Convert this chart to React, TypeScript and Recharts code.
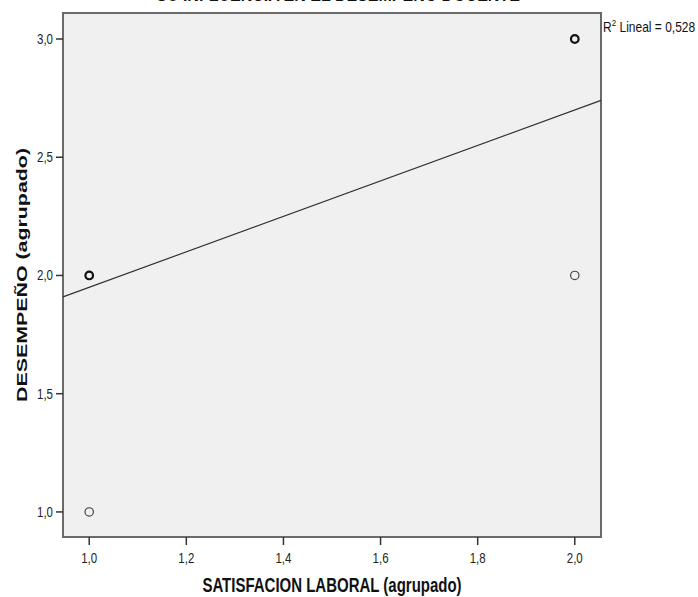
import React from "react";
import {
  ScatterChart,
  Scatter,
  XAxis,
  YAxis,
  ReferenceArea,
  ReferenceLine,
  Label,
} from "recharts";

// observed groups (x = satisfacción, y = desempeño); n = overlapping cases
const satisfaccion = [1, 1, 2, 2];
const desempeno = [1, 2, 2, 3];
const casos = [1, 2, 1, 2];

const xTicks = [1.0, 1.2, 1.4, 1.6, 1.8, 2.0];
const yTicks = [1.0, 1.5, 2.0, 2.5, 3.0];

// linear fit
const intercepto = 1.2;
const pendiente = 0.75;
const r2 = "0,528";

const xDomain: [number, number] = [0.946, 2.054];
const yDomain: [number, number] = [0.894, 3.11];

const points = satisfaccion.map((x, i) => ({ x, y: desempeno[i], n: casos[i] }));

const fmt = (v: number) => v.toFixed(1).replace(".", ",");
const font = "'Liberation Sans', Arial, sans-serif";

// the reference is stretched vertically, so text is drawn taller than wide
const STRETCH = 1.3;

const Ring = (props: any) => {
  const { cx, cy, payload } = props;
  const bold = payload.n > 1;
  return (
    <circle
      cx={cx}
      cy={cy}
      r={bold ? 3.8 : 4.2}
      fill="none"
      stroke={bold ? "#111" : "#444"}
      strokeWidth={bold ? 2.2 : 1.2}
    />
  );
};

const XTick = (props: any) => {
  const { x, y, payload } = props;
  return (
    <g transform={`translate(${x},${y + 16}) scale(1,${STRETCH})`}>
      <text textAnchor="middle" fill="#222" fontSize={11.5} fontFamily={font}>
        {fmt(payload.value)}
      </text>
    </g>
  );
};

const YTick = (props: any) => {
  const { x, y, payload } = props;
  return (
    <g transform={`translate(${x - 1},${y + 5}) scale(1,${STRETCH})`}>
      <text textAnchor="end" fill="#222" fontSize={11.5} fontFamily={font}>
        {fmt(payload.value)}
      </text>
    </g>
  );
};

const XTitle = (props: any) => {
  const { viewBox } = props;
  const cx = viewBox.x + viewBox.width / 2;
  return (
    <g transform={`translate(${cx},592) scale(1,1.36)`}>
      <text textAnchor="middle" fill="#111" fontSize={15} fontWeight="bold" fontFamily={font}>
        SATISFACION LABORAL (agrupado)
      </text>
    </g>
  );
};

const YTitle = (props: any) => {
  const { viewBox } = props;
  const cy = viewBox.y + viewBox.height / 2;
  return (
    <g transform={`translate(27,${cy}) scale(1,1.38) rotate(-90)`}>
      <text textAnchor="middle" fill="#111" fontSize={15.5} fontWeight="bold" fontFamily={font}>
        DESEMPEÑO (agrupado)
      </text>
    </g>
  );
};

export default function App() {
  return (
    <div
      style={{
        position: "absolute",
        top: 0,
        left: 0,
        width: 698,
        height: 597,
        background: "#fff",
        overflow: "hidden",
        fontFamily: font,
      }}
    >
      <div
        style={{
          position: "absolute",
          top: -12,
          left: 0,
          width: 676,
          textAlign: "center",
          fontWeight: "bold",
          fontSize: 16,
          lineHeight: "18px",
          color: "#111",
          transform: "scaleY(1.3)",
          transformOrigin: "50% 100%",
        }}
      >
        SU INFLUENCIA EN EL DESEMPEÑO DOCENTE
      </div>
      <div
        style={{
          position: "absolute",
          top: 17,
          left: 603,
          fontSize: 12,
          lineHeight: "14px",
          color: "#111",
          whiteSpace: "nowrap",
          transform: "scaleY(1.2)",
        }}
      >
        R<sup style={{ fontSize: 8 }}>2</sup> Lineal = {r2}
      </div>
      <ScatterChart
        width={698}
        height={597}
        margin={{ top: 13, right: 97, bottom: 30, left: 3 }}
      >
        <XAxis
          type="number"
          dataKey="x"
          domain={xDomain}
          ticks={xTicks}
          allowDataOverflow
          height={30}
          axisLine={false}
          tickSize={8}
          tickLine={{ stroke: "#333", strokeWidth: 1.5 }}
          tick={XTick}
        >
          <Label content={XTitle} />
        </XAxis>
        <YAxis
          type="number"
          dataKey="y"
          domain={yDomain}
          ticks={yTicks}
          allowDataOverflow
          width={60}
          axisLine={false}
          tickSize={7}
          tickLine={{ stroke: "#333", strokeWidth: 1.5 }}
          tick={YTick}
        >
          <Label content={YTitle} />
        </YAxis>
        <ReferenceArea
          x1={xDomain[0]}
          x2={xDomain[1]}
          y1={yDomain[0]}
          y2={yDomain[1]}
          fill="#f0f0f0"
          fillOpacity={1}
          stroke="#6a6a6a"
          strokeWidth={2}
        />
        <ReferenceLine
          segment={[
            { x: xDomain[0], y: intercepto + pendiente * xDomain[0] },
            { x: xDomain[1], y: intercepto + pendiente * xDomain[1] },
          ]}
          stroke="#333"
          strokeWidth={1.2}
        />
        <Scatter data={points} shape={Ring} isAnimationActive={false} />
      </ScatterChart>
    </div>
  );
}
